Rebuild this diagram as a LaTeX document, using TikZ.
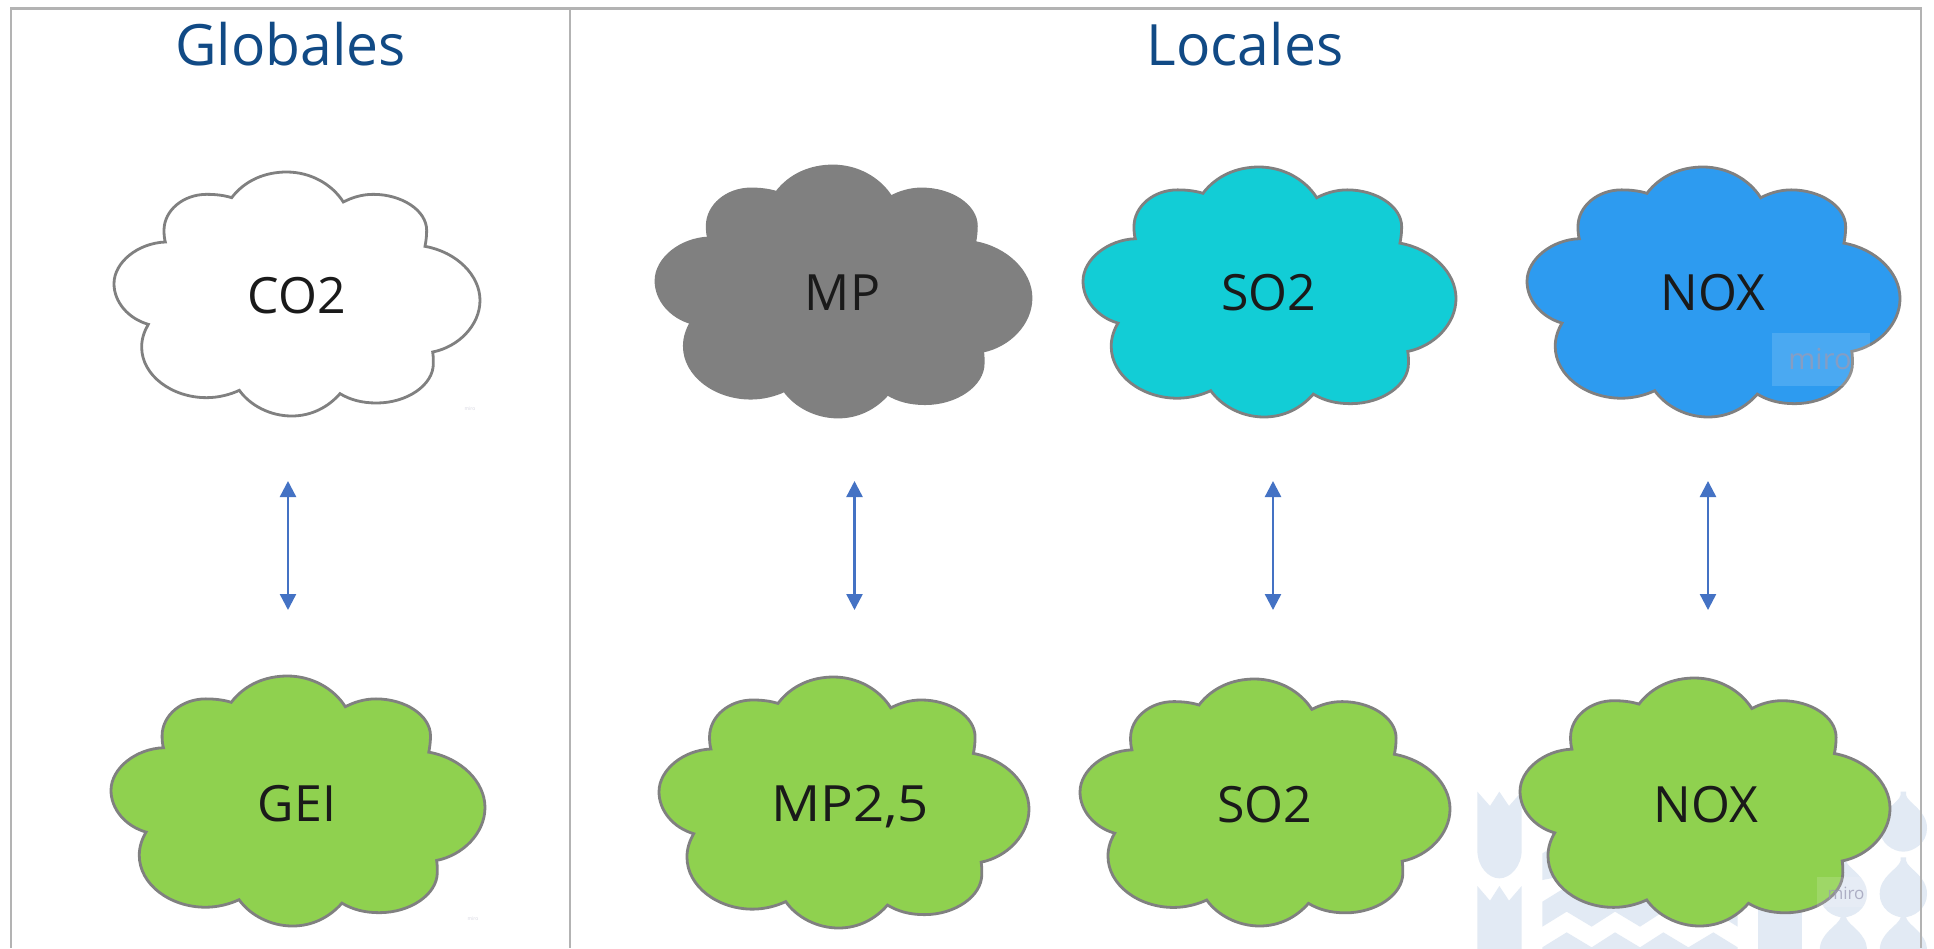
\documentclass[tikz,border=0pt]{standalone}
\usepackage{fontspec}
\setmainfont{Open Sans}
\usetikzlibrary{arrows.meta}
\definecolor{framegray}{HTML}{B3B3B3}
\definecolor{titleblue}{HTML}{114A85}
\definecolor{cloudline}{HTML}{808080}
\definecolor{cloudgreen}{HTML}{8FD14F}
\definecolor{cloudcyan}{HTML}{12CDD6}
\definecolor{cloudblue}{HTML}{2D9BF0}
\definecolor{cloudgray}{HTML}{808080}
\definecolor{arrowblue}{HTML}{4472C4}
\definecolor{markblue}{HTML}{E2EAF4}
\definecolor{inktext}{HTML}{1A1A1A}
\definecolor{mirotext}{HTML}{9A9AB4}
\tikzset{
  x=1pt,y=-1pt,
  frameline/.style={draw=framegray,line width=2.4pt},
  titletext/.style={text=titleblue,font=\fontsize{57}{60}\selectfont,anchor=base,inner sep=0pt},
  cloudtext/.style={text=inktext,font=\fontsize{50}{54}\selectfont,anchor=base,inner sep=0pt},
  cloudedge/.style={draw=cloudline,line width=2.8pt,line join=miter},
  linkarrow/.style={draw=arrowblue,line width=2.4pt,{Triangle[width=16pt,length=16pt]}-{Triangle[width=16pt,length=16pt]}},
  markshape/.style={fill=markblue,draw=none},
  miroband/.style={fill=white,fill opacity=.14,draw=none},
  mirolabel/.style={text=mirotext,text opacity=.75,anchor=base,inner sep=0pt},
}
% \cloudat{x0}{y0}{x1}{y1}{fill}
\newcommand{\cloudat}[5]{%
\pgfmathsetmacro{\csx}{(#3-#1)/1098}%
\pgfmathsetmacro{\csy}{(#4-#2)/732}%
\begin{scope}[shift={(#1,#2)},xscale=\csx,yscale=\csy,shift={(-72,-65)}]
\path[cloudedge,fill=#5]
 (425,142) .. controls (465,90) and (525,65) .. (590,65)
 .. controls (660,65) and (725,100) .. (760,155)
 .. controls (785,142) and (815,132) .. (850,132)
 .. controls (935,132) and (1010,180) .. (1010,240)
 .. controls (1010,258) and (1008,272) .. (1005,288)
 .. controls (1100,305) and (1170,375) .. (1170,450)
 .. controls (1170,525) and (1105,590) .. (1028,605)
 .. controls (1030,617) and (1030,628) .. (1030,640)
 .. controls (1030,705) and (950,758) .. (860,758)
 .. controls (815,758) and (780,748) .. (750,730)
 .. controls (715,770) and (665,797) .. (605,797)
 .. controls (540,797) and (480,765) .. (448,720)
 .. controls (420,733) and (385,742) .. (350,742)
 .. controls (245,742) and (155,675) .. (155,590)
 .. controls (155,565) and (163,542) .. (175,522)
 .. controls (115,505) and (72,455) .. (72,400)
 .. controls (72,335) and (145,278) .. (226,275)
 .. controls (223,265) and (222,252) .. (222,240)
 .. controls (222,180) and (280,132) .. (350,132)
 .. controls (378,132) and (402,135) .. (425,142) -- cycle;
\end{scope}}
% one drop of the background mark, top point (x,y)
\newcommand{\dropat}[2]{%
\fill[markshape,shift={(#1,#2)}] (-8,-10) -- (-8,0) .. controls (-14,25) and (-71,45) .. (-71,100)
 .. controls (-71,145) and (-30,170) .. (0,170) .. controls (30,170) and (71,145) .. (71,100)
 .. controls (71,45) and (14,25) .. (8,0) -- (8,-10) -- cycle;}
\begin{document}
\begin{tikzpicture}
\useasboundingbox (0,0) rectangle (1934,948);
\fill[white] (0,0) rectangle (1934,948);
% background mark
\begin{scope}
\clip (0,0) rectangle (1934,948);
\begin{scope}[shift={(1460,770)},scale=1/3]
\fill[markshape] (52,65) -- (90,108) -- (118,65) -- (147,108) -- (185,65) -- (185,240)
  .. controls (185,290) and (150,325) .. (118,325) .. controls (85,325) and (52,290) .. (52,240) -- cycle;
\fill[markshape] (52,348) -- (90,392) -- (118,348) -- (147,392) -- (185,348) -- (185,540) -- (52,540) -- cycle;
\fill[markshape] (247,250) -- (400,160) -- (400,300) -- (247,330) -- cycle;
\fill[markshape] (247,395) -- (320,350) -- (833,350) -- (833,470) -- (760,425) -- (685,470) -- (610,425) -- (540,470) -- (465,425) -- (395,470) -- (320,425) -- (247,470) -- cycle;
\fill[markshape] (247,532) -- (320,487) -- (395,532) -- (465,487) -- (540,532) -- (610,487) -- (685,532) -- (760,487) -- (833,532) -- (833,540) -- (247,540) -- cycle;
\fill[markshape] (893,380) rectangle (1025,540);
\dropat{1150}{272}
\dropat{1150}{442}
\dropat{1330}{75}
\dropat{1330}{272}
\dropat{1330}{442}
\end{scope}
\end{scope}
% frame
\coordinate (fa) at (11,8.5);
\coordinate (fb) at (570,8.5);
\coordinate (fc) at (1921,8.5);
\coordinate (fd) at (11,948);
\coordinate (fe) at (570,948);
\coordinate (ff) at (1921,948);
\draw[frameline] (fd) -- (fa) -- (fc) -- (ff);
\draw[frameline] (fb) -- (fe);
% titles
\node[titletext] (tglobal) at (290.5,65) {Globales};
\node[titletext] (tlocal) at (1245,65) {Locales};
% clouds
\cloudat{114}{172}{480}{416}{white}
\cloudat{656}{166}{1031}{417}{cloudgray}
\cloudat{1083}{167}{1456}{417}{cloudcyan}
\cloudat{1527}{167}{1900}{417}{cloudblue}
\cloudat{111}{676}{485}{926}{cloudgreen}
\cloudat{659}{677}{1029}{928}{cloudgreen}
\cloudat{1080}{679}{1450}{926}{cloudgreen}
\cloudat{1520}{678}{1890}{926}{cloudgreen}
% labels
\node[cloudtext] (co) at (297,313) {CO2};
\node[cloudtext] (mp) at (842.5,310) {MP};
\node[cloudtext] (sot) at (1269,310) {SO2};
\node[cloudtext] (noxt) at (1713,310) {NOX};
\node[cloudtext] (gei) at (297,821) {GEI};
\node[cloudtext,xscale=1.09] (mpf) at (850,821) {MP2,5};
\node[cloudtext] (sob) at (1265,822) {SO2};
\node[cloudtext] (noxb) at (1706,822) {NOX};
% arrows
\coordinate (a1t) at (288,481); \coordinate (a1b) at (288,610);
\coordinate (a2t) at (854.5,481); \coordinate (a2b) at (854.5,610);
\coordinate (a3t) at (1273,481);  \coordinate (a3b) at (1273,610);
\coordinate (a4t) at (1708,481);  \coordinate (a4b) at (1708,610);
\draw[linkarrow] (a1t) -- (a1b);
\draw[linkarrow] (a2t) -- (a2b);
\draw[linkarrow] (a3t) -- (a3b);
\draw[linkarrow] (a4t) -- (a4b);
% miro badges
\fill[miroband] (1772,333) rectangle (1870,386);
\fill[miroband] (1817,877) rectangle (1875,907);
\node[mirolabel,font=\fontsize{29}{30}\selectfont] (mb1) at (1820,369) {miro};
\node[mirolabel,font=\fontsize{17}{18}\selectfont] (mb2) at (1846,899) {miro};
\node[mirolabel,font=\fontsize{5}{6}\selectfont,text opacity=.4] (mb3) at (470,410) {miro};
\node[mirolabel,font=\fontsize{5}{6}\selectfont,text opacity=.4] (mb4) at (473,920) {miro};
\end{tikzpicture}
\end{document}
